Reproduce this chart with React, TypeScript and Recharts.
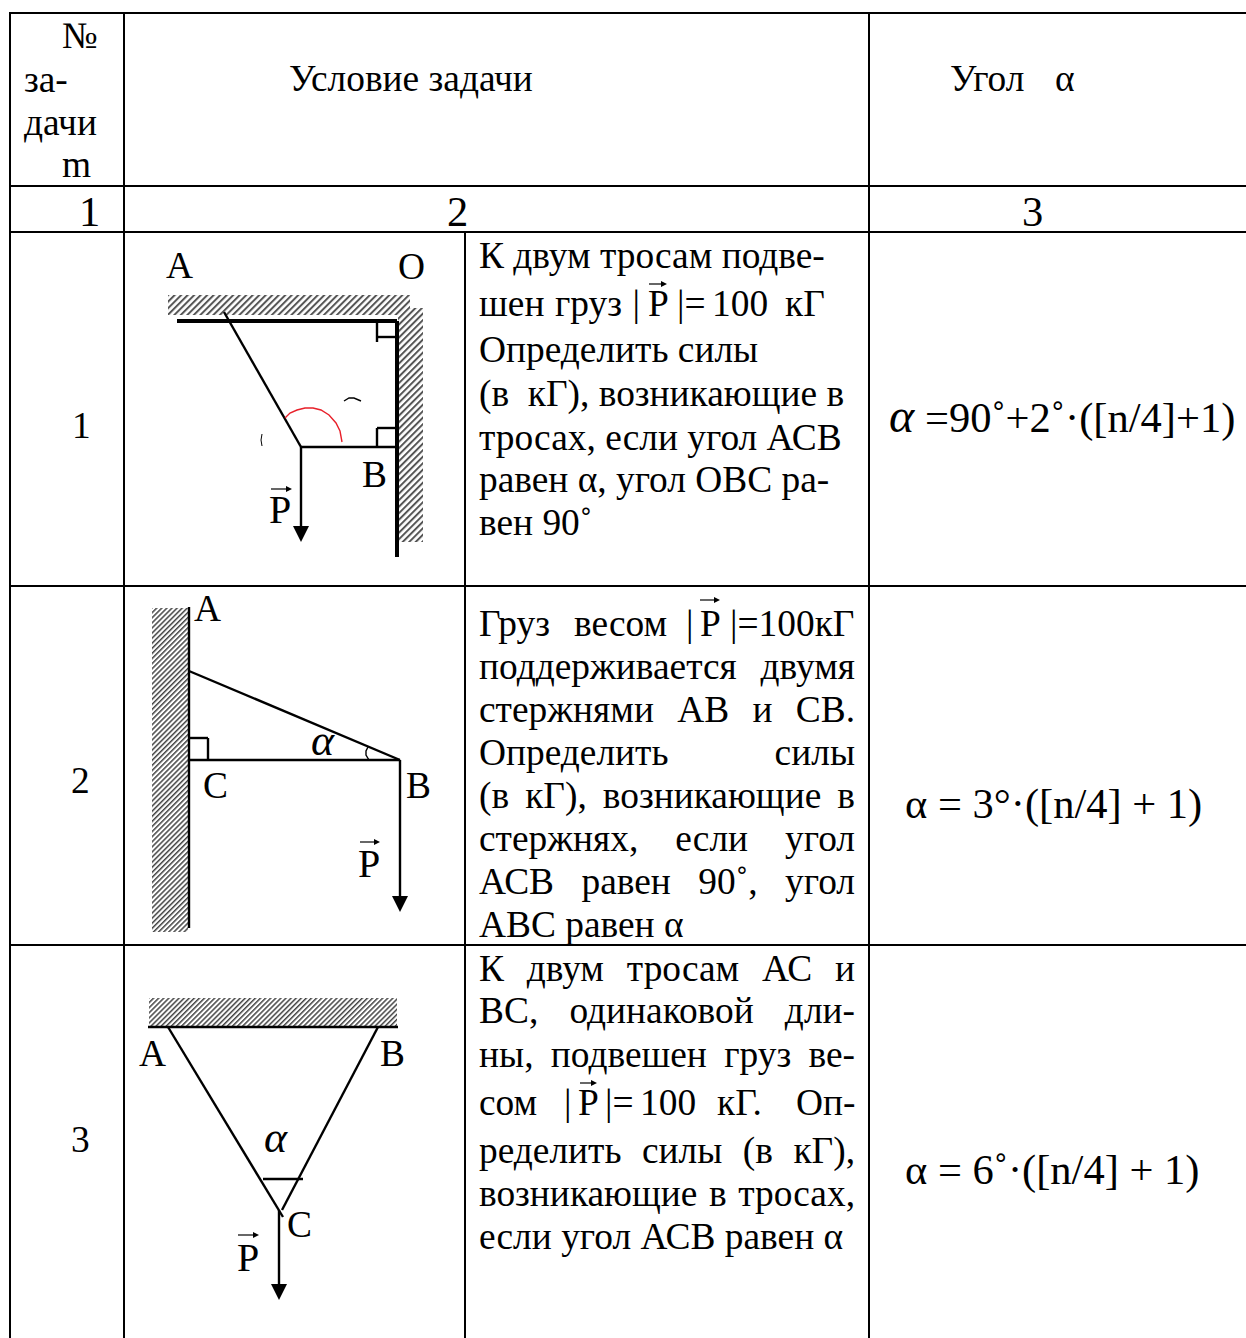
import React from "react";
import { ScatterChart, Scatter, XAxis, YAxis, ReferenceLine, ReferenceArea } from "recharts";

const W = 1246;
const H = 1338;
const SERIF = '"Liberation Serif", serif';

type Seg = [number, number, number, number];
type Label = { x: number; y: number; t: string; right?: number };

const tableLines: Seg[] = [
  [9, 13, 1246, 13], [9, 186, 1246, 186], [9, 232, 1246, 232], [9, 586, 1246, 586], [9, 945, 1246, 945],
  [10, 13, 10, 1338], [124, 13, 124, 1338], [869, 13, 869, 1338],
  [465, 232, 465, 1338],
];
const heavyLines: Seg[] = [
  [177, 321, 397, 321], [397, 321, 397, 557],
];
const mediumLines: Seg[] = [
  [224, 312, 301, 447], [301, 447, 397, 447], [301, 447, 301, 528],
  [377, 322, 377, 342], [377, 337, 397, 337], [377, 447, 377, 428], [377, 428, 397, 428],
  [189, 607, 189, 928], [189, 671, 400, 760], [189, 760, 400, 760], [400, 760, 400, 898],
  [208, 760, 208, 738], [189, 738, 208, 738],
  [148, 1027, 398, 1027], [168, 1027, 283, 1217], [378, 1027, 282, 1210],
  [263, 1179, 303, 1179], [279, 1210, 279, 1286],
];
const vecBars: Seg[] = [
  [271, 489, 288, 489], [360, 842, 376, 842], [238, 1235, 255, 1235],
  [649, 284, 662, 284], [700, 600, 716, 600], [580, 1083, 593, 1083],
];
const hatchCoarse = [
  { x1: 168, x2: 410, y1: 295, y2: 315 }, { x1: 398, x2: 423, y1: 308, y2: 542 },
];
const hatchFine = [
  { x1: 152, x2: 188, y1: 608, y2: 932 }, { x1: 149, x2: 397, y1: 998, y2: 1026 },
];
const bigArrowTips = [{ x: 301, y: 542 }, { x: 400, y: 912 }, { x: 279, y: 1300 }];
const vecTips = [{ x: 292, y: 489 }, { x: 380, y: 842 }, { x: 259, y: 1235 }, { x: 667, y: 284 }, { x: 720, y: 600 }, { x: 597, y: 1083 }];

const redArc = [
  { x: 285, y: 418 }, { x: 290, y: 413 }, { x: 297, y: 410 }, { x: 305, y: 408 }, { x: 313, y: 408 },
  { x: 321, y: 410 }, { x: 329, y: 415 }, { x: 336, y: 423 }, { x: 340, y: 431 }, { x: 342, y: 442 },
];
const angleArc = [{ x: 368, y: 747 }, { x: 366, y: 751 }, { x: 366, y: 755 }, { x: 369, y: 760 }];
const stubA = [{ x: 344, y: 401 }, { x: 349, y: 398 }, { x: 354, y: 398 }, { x: 361, y: 401 }];
const stubB = [{ x: 262, y: 434 }, { x: 261, y: 440 }, { x: 262, y: 446 }];

const bodyText: Label[] = [
  { x: 479, y: 268, t: "К двум тросам подве-" },
  { x: 479, y: 316, t: "шен груз |", right: 640 }, { x: 648, y: 316, t: "P" }, { x: 677, y: 316, t: "|=" }, { x: 712, y: 316, t: "100" }, { x: 785, y: 316, t: "кГ" },
  { x: 479, y: 362, t: "Определить силы" },
  { x: 479, y: 406, t: "(в  кГ), возникающие в" },
  { x: 479, y: 450, t: "тросах, если угол АСВ" },
  { x: 479, y: 492, t: "равен α, угол ОВС ра-" },
  { x: 479, y: 535, t: "вен 90˚" },

  { x: 479, y: 636, t: "Груз" }, { x: 574, y: 636, t: "весом" }, { x: 686, y: 636, t: "|" }, { x: 700, y: 636, t: "P" }, { x: 730, y: 636, t: "|=100кГ" },
  { x: 479, y: 679, t: "поддерживается двумя", right: 855 },
  { x: 479, y: 722, t: "стержнями АВ и СВ.", right: 855 },
  { x: 479, y: 765, t: "Определить силы", right: 855 },
  { x: 479, y: 808, t: "(в кГ), возникающие в", right: 855 },
  { x: 479, y: 851, t: "стержнях, если угол", right: 855 },
  { x: 479, y: 894, t: "АСВ равен 90˚, угол", right: 855 },
  { x: 479, y: 937, t: "АВС равен α" },

  { x: 479, y: 981, t: "К двум тросам АС и", right: 855 },
  { x: 479, y: 1023, t: "ВС, одинаковой дли-", right: 855 },
  { x: 479, y: 1067, t: "ны, подвешен груз ве-", right: 855 },
  { x: 479, y: 1115, t: "сом" }, { x: 564, y: 1115, t: "|" }, { x: 578, y: 1115, t: "P" }, { x: 605, y: 1115, t: "|=" }, { x: 640, y: 1115, t: "100" }, { x: 717, y: 1115, t: "кГ." }, { x: 796, y: 1115, t: "Оп-" },
  { x: 479, y: 1163, t: "ределить силы (в кГ),", right: 855 },
  { x: 479, y: 1206, t: "возникающие в тросах,", right: 855 },
  { x: 479, y: 1249, t: "если угол АСВ равен α" },

  { x: 62, y: 48, t: "№" }, { x: 24, y: 92, t: "за-" }, { x: 24, y: 135, t: "дачи" }, { x: 62, y: 177, t: "m" },
  { x: 289, y: 91, t: "Условие задачи" }, { x: 950, y: 91, t: "Угол" }, { x: 1055, y: 91, t: "α" },
  { x: 72, y: 438, t: "1" }, { x: 71, y: 793, t: "2" }, { x: 71, y: 1152, t: "3" },
  { x: 166, y: 278, t: "A" }, { x: 398, y: 279, t: "O" }, { x: 362, y: 487, t: "B" },
  { x: 194, y: 621, t: "A" }, { x: 203, y: 798, t: "C" }, { x: 406, y: 798, t: "B" },
  { x: 139, y: 1066, t: "A" }, { x: 380, y: 1066, t: "B" }, { x: 287, y: 1237, t: "C" },
];
const vectorLetters: Label[] = [
  { x: 269, y: 523, t: "P" }, { x: 358, y: 877, t: "P" }, { x: 237, y: 1271, t: "P" },
];
const largeText: Label[] = [
  { x: 79, y: 226, t: "1" }, { x: 447, y: 226, t: "2" }, { x: 1022, y: 226, t: "3" },
  { x: 925, y: 432, t: "=90˚+2˚·([n/4]+1)" },
  { x: 905, y: 818, t: "α = 3°·([n/4] + 1)" },
  { x: 905, y: 1184, t: "α = 6˚·([n/4] + 1)" },
];
const italicText: Label[] = [
  { x: 311, y: 755, t: "α" }, { x: 264, y: 1152, t: "α" },
];
const italicLarge: Label[] = [{ x: 889, y: 432, t: "α" }];

const measure = (t: string, size: number) => {
  const ctx = document.createElement("canvas").getContext("2d");
  if (!ctx) return 0;
  ctx.font = `${size}px "Liberation Serif"`;
  return ctx.measureText(t).width;
};

const textShape = (size: number, italic = false) => (p: any) => {
  const d: Label = p.payload;
  let wordSpacing: number | undefined;
  if (d.right) {
    const n = d.t.split(" ").length - 1;
    wordSpacing = (d.right - d.x - measure(d.t, size)) / n;
  }
  return (
    <text x={p.cx} y={p.cy} fontFamily={SERIF} fontSize={size} fontStyle={italic ? "italic" : "normal"} fill="#000" wordSpacing={wordSpacing} style={{ whiteSpace: "pre" }}>
      {d.t}
    </text>
  );
};
const bigTip = (p: any) => <polygon points={`${p.cx},${p.cy} ${p.cx - 8},${p.cy - 16} ${p.cx + 8},${p.cy - 16}`} fill="#000" />;
const vecTip = (p: any) => <polygon points={`${p.cx},${p.cy} ${p.cx - 6},${p.cy - 3} ${p.cx - 6},${p.cy + 3}`} fill="#000" />;
const noDot = () => <g />;

const segLines = (list: Seg[], width: number, key: string) =>
  list.map((s, i) => (
    <ReferenceLine key={key + i} segment={[{ x: s[0], y: s[1] }, { x: s[2], y: s[3] }]} stroke="#000" strokeWidth={width} ifOverflow="visible" />
  ));
const areas = (list: typeof hatchFine, fill: string, key: string) =>
  list.map((a, i) => <ReferenceArea key={key + i} x1={a.x1} x2={a.x2} y1={a.y1} y2={a.y2} fill={fill} fillOpacity={1} stroke="none" ifOverflow="visible" />);
const curve = (data: { x: number; y: number }[], stroke: string, width: number) => (
  <Scatter data={data} line={{ stroke, strokeWidth: width }} lineType="joint" shape={noDot} isAnimationActive={false} />
);
const texts = (data: Label[], size: number, italic = false) => (
  <Scatter data={data} shape={textShape(size, italic)} isAnimationActive={false} />
);

export default function App() {
  return (
    <div style={{ position: "absolute", left: 0, top: 0, width: W, height: H, background: "#fff" }}>
      <ScatterChart width={W} height={H} margin={{ top: 0, right: 0, bottom: 0, left: 0 }}>
        <defs>
          <pattern id="hatchCoarse" width="4.6" height="4.6" patternUnits="userSpaceOnUse" patternTransform="rotate(45)">
            <rect width="4.6" height="4.6" fill="#fff" />
            <rect width="2" height="4.6" fill="#555" />
          </pattern>
          <pattern id="hatchFine" width="3.6" height="3.6" patternUnits="userSpaceOnUse" patternTransform="rotate(45)">
            <rect width="3.6" height="3.6" fill="#fff" />
            <rect width="1.5" height="3.6" fill="#444" />
          </pattern>
        </defs>
        <XAxis type="number" dataKey="x" domain={[0, W]} hide />
        <YAxis type="number" dataKey="y" domain={[0, H]} reversed hide />
        {areas(hatchCoarse, "url(#hatchCoarse)", "hc")}
        {areas(hatchFine, "url(#hatchFine)", "hf")}
        {segLines(tableLines, 2, "t")}
        {segLines(heavyLines, 4, "h")}
        {segLines(mediumLines, 2.4, "m")}
        {segLines(vecBars, 1.2, "v")}
        {curve(redArc, "#e8202a", 1.4)}
        {curve(angleArc, "#000", 1.4)}
        {curve(stubA, "#000", 1.4)}
        {curve(stubB, "#000", 1)}
        <Scatter data={bigArrowTips} shape={bigTip} isAnimationActive={false} />
        <Scatter data={vecTips} shape={vecTip} isAnimationActive={false} />
        {texts(bodyText, 37.4)}
        {texts(vectorLetters, 40)}
        {texts(largeText, 42.5)}
        {texts(italicText, 44, true)}
        {texts(italicLarge, 48, true)}
      </ScatterChart>
    </div>
  );
}
